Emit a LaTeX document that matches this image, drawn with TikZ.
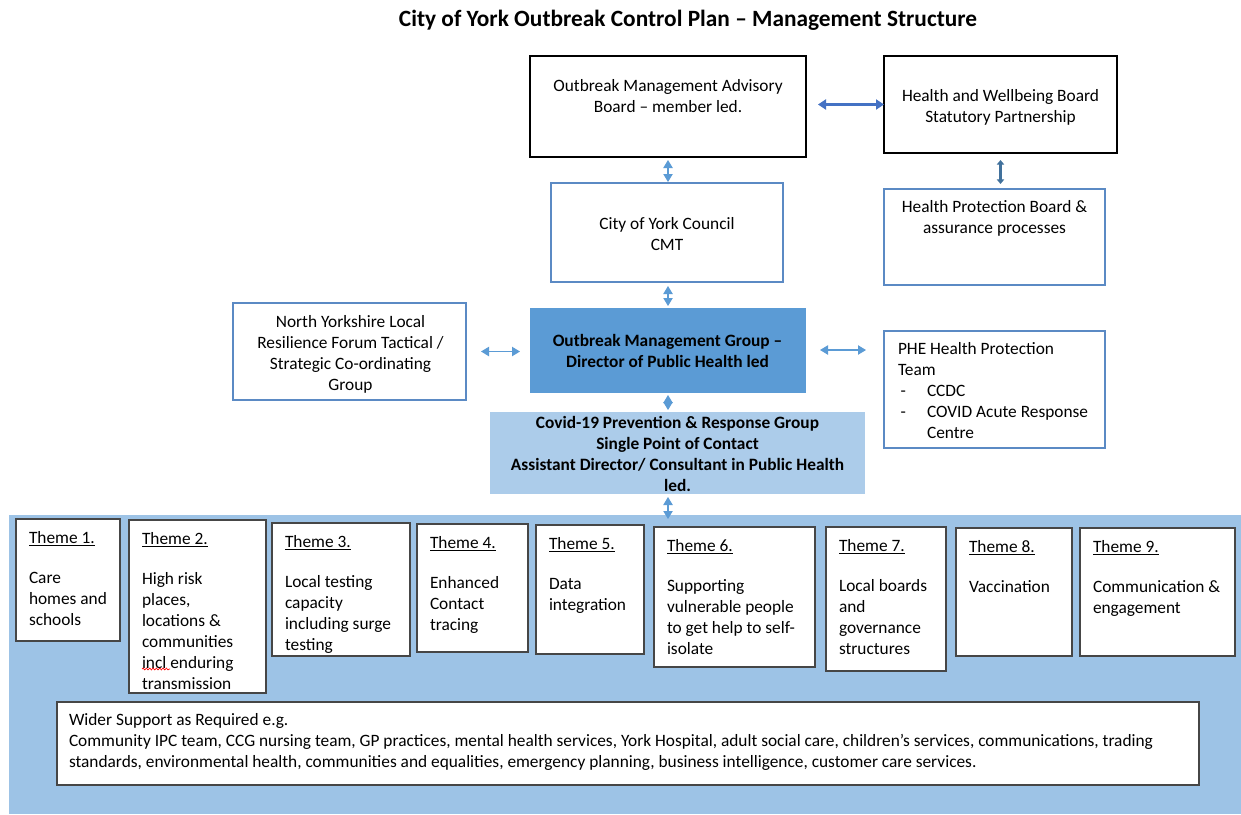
\documentclass[tikz,border=0pt]{standalone}
\usepackage{fontspec}
\setmainfont{Carlito}
\usetikzlibrary{arrows.meta,decorations.pathmorphing}
\definecolor{omgfill}{RGB}{91,155,213}
\definecolor{covfill}{RGB}{172,204,234}
\definecolor{bandfill}{RGB}{157,195,230}
\definecolor{bborder}{RGB}{91,138,196}
\definecolor{lblue}{RGB}{91,155,213}
\definecolor{dblue}{RGB}{68,114,196}
\definecolor{sblue}{RGB}{65,113,156}
\definecolor{tborder}{RGB}{70,70,70}
\newcommand{\pxbox}[6]{\node[#1, minimum width=#5*0.75pt, minimum height=#6*0.75pt] (#2) at (#3,#4) {};}
\newcommand{\phedash}{\makebox[21.75pt][l]{\hspace{2pt}-}}
\tikzset{
  every node/.style={inner sep=0pt, outer sep=0pt},
  base/.style={anchor=north west, rectangle},
  blackbox/.style={base, draw=black, line width=1.2pt, fill=white},
  bluebox/.style={base, draw=bborder, line width=1pt, fill=white},
  omgbox/.style={base, draw=omgfill, fill=omgfill},
  covbox/.style={base, fill=covfill},
  bandbox/.style={base, fill=bandfill},
  thmbox/.style={base, draw=tborder, line width=1.1pt, fill=white},
  txt/.style={font=\fontsize{13}{15.75}\selectfont, align=center, anchor=north},
  ltxt/.style={font=\fontsize{13}{15.75}\selectfont, align=left, anchor=north west},
  lbarr/.style={draw=lblue, line width=0.8pt, {Triangle[length=6pt,width=7pt]}-{Triangle[length=6pt,width=7pt]}},
  dbarr/.style={draw=dblue, line width=2.2pt, {Triangle[length=6pt,width=7.5pt]}-{Triangle[length=6pt,width=7.5pt]}},
  sbarr/.style={draw=sblue, line width=2pt, {Triangle[length=3.5pt,width=5.5pt]}-{Triangle[length=3.5pt,width=5.5pt]}}
}
\begin{document}
\begin{tikzpicture}[x=0.75pt,y=-0.75pt]
\useasboundingbox (0,0) rectangle (1241,814);
\fill[white] (0,0) rectangle (1241,814);
% title
\node[font=\fontsize{17.5}{21}\selectfont\bfseries, anchor=center] (title) at (688,20) {City of York Outbreak Control Plan – Management Structure};
% top boxes
\pxbox{blackbox}{omab}{530}{56}{276}{101}
\node[txt] (omabt) at ([shift={(0,23)}]omab.north) {Outbreak Management Advisory\\Board – member led.};
\pxbox{blackbox}{hwb}{884}{56}{233}{97}
\node[txt] (hwbt) at ([shift={(0,33)}]hwb.north) {Health and Wellbeing Board\\Statutory Partnership};
\pxbox{bluebox}{hpb}{884}{189}{221}{96}
\node[txt] (hpbt) at ([shift={(0,11)}]hpb.north) {Health Protection Board \&\\assurance processes};
\pxbox{bluebox}{cmt}{551}{183}{232}{99}
\node[txt] (cmtt) at ([shift={(0,34)}]cmt.north) {City of York Council\\CMT};
\pxbox{bluebox}{nylrf}{233}{303}{233}{97}
\node[txt] (nylrft) at ([shift={(1,12)}]nylrf.north) {North Yorkshire Local\\Resilience Forum Tactical /\\Strategic Co-ordinating\\Group};
\pxbox{omgbox}{omg}{530}{308}{275}{84}
\node[txt, font=\fontsize{13}{15.75}\selectfont\bfseries] (omgt) at ([shift={(0,26)}]omg.north) {Outbreak Management Group –\\Director of Public Health led};
\pxbox{bluebox}{phe}{884}{331}{221}{117}
\node[ltxt] (phet) at ([shift={(14,11)}]phe.north west) {PHE Health Protection\\Team\\\phedash CCDC\\\phedash COVID Acute Response\\\hspace*{21.75pt}Centre};
\pxbox{covbox}{covid}{490}{412}{375}{82}
\node[txt, font=\fontsize{13}{15.75}\selectfont\bfseries] (covidt) at ([shift={(0,4)}]covid.north) {Covid-19 Prevention \& Response Group\\Single Point of Contact\\Assistant Director/ Consultant in Public Health\\led.};
% band
\pxbox{bandbox}{band}{9}{515}{1232}{299}
% themes
\pxbox{thmbox}{t1}{16}{519}{104}{122}
\node[ltxt] (t1t) at ([shift={(13,12)}]t1.north west) {\underline{Theme 1.}\\[14.25pt]Care\\homes and\\schools};
\pxbox{thmbox}{t2}{129}{520}{137}{173}
\node[ltxt] (t2t) at ([shift={(13,12)}]t2.north west) {\underline{Theme 2.}\\[14.25pt]High risk\\places,\\locations \&\\communities\\incl enduring\\transmission};
\draw[red, line width=0.5pt, decorate, decoration={snake, amplitude=0.7pt, segment length=2.5pt}] (142,669) -- (170,669);
\pxbox{thmbox}{t3}{272}{523}{138}{133}
\node[ltxt] (t3t) at ([shift={(13,12)}]t3.north west) {\underline{Theme 3.}\\[14.25pt]Local testing\\capacity\\including surge\\testing};
\pxbox{thmbox}{t4}{417}{524}{111}{128}
\node[ltxt] (t4t) at ([shift={(13,12)}]t4.north west) {\underline{Theme 4.}\\[14.25pt]Enhanced\\Contact\\tracing};
\pxbox{thmbox}{t5}{536}{525}{108}{129}
\node[ltxt] (t5t) at ([shift={(13,12)}]t5.north west) {\underline{Theme 5.}\\[14.25pt]Data\\integration};
\pxbox{thmbox}{t6}{654}{527}{161}{140}
\node[ltxt] (t6t) at ([shift={(13,12)}]t6.north west) {\underline{Theme 6.}\\[14.25pt]Supporting\\vulnerable people\\to get help to self-\\isolate};
\pxbox{thmbox}{t7}{826}{527}{120}{144}
\node[ltxt] (t7t) at ([shift={(13,12)}]t7.north west) {\underline{Theme 7.}\\[14.25pt]Local boards\\and\\governance\\structures};
\pxbox{thmbox}{t8}{956}{528}{116}{128}
\node[ltxt] (t8t) at ([shift={(13,12)}]t8.north west) {\underline{Theme 8.}\\[14.25pt]Vaccination};
\pxbox{thmbox}{t9}{1080}{528}{155}{128}
\node[ltxt] (t9t) at ([shift={(13,12)}]t9.north west) {\underline{Theme 9.}\\[14.25pt]Communication \&\\engagement};
% wider support
\pxbox{thmbox}{wider}{57}{702}{1142}{83}
\node[ltxt] (widert) at ([shift={(12,11)}]wider.north west) {Wider Support as Required e.g.\\Community IPC team, CCG nursing team, GP practices, mental health services, York Hospital, adult social care, children’s services, communications, trading\\standards, environmental health, communities and equalities, emergency planning, business intelligence, customer care services.};
% connectors
\coordinate (tend) at (668,519);
\draw[dbarr, shorten <=9pt] (omab.east |- hwb.west) -- (hwb.west);
\draw[sbarr, shorten <=5.25pt, shorten >=3.75pt] (hwb.south) -- (hwb.south |- hpb.north);
\draw[lbarr, shorten <=2.25pt, shorten >=0.75pt] (omab.south) -- (omab.south |- cmt.north);
\draw[lbarr, shorten <=3pt, shorten >=1.5pt] (omab.south |- cmt.south) -- (omab.south |- omg.north);
\draw[lbarr, shorten <=11.25pt, shorten >=7.5pt] (nylrf.east) -- (nylrf.east -| omg.west);
\draw[lbarr, shorten <=11.25pt, shorten >=13.5pt] (omg.east) -- (omg.east -| phe.west);
\draw[lbarr, shorten <=2.25pt, shorten >=1.5pt] (omab.south |- omg.south) -- (omab.south |- covid.north);
\draw[lbarr, shorten <=2.25pt] (omab.south |- covid.south) -- (tend);
\end{tikzpicture}
\end{document}
